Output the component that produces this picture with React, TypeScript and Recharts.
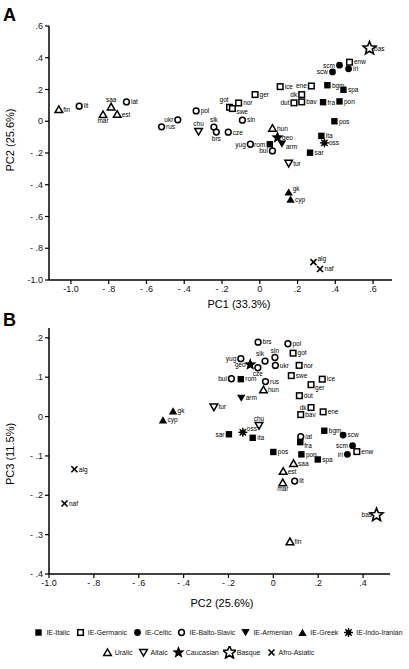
import React from 'react';
import { ScatterChart, Scatter, XAxis, YAxis } from 'recharts';

// language codes, family and principal-component scores
const languages = [
  'fra', 'spa', 'pon', 'pos', 'ita', 'sar', 'rom', 'bgm',
  'got', 'swe', 'nor', 'ger', 'ice', 'ene', 'dk', 'dut', 'bav', 'enw',
  'scm', 'scw', 'iri',
  'lit', 'lat', 'ukr', 'rus', 'pol', 'slk', 'brs', 'cze', 'sln', 'yug', 'bul',
  'arm', 'gk', 'cyp', 'oss',
  'fin', 'saa', 'mar', 'est', 'hun',
  'chu', 'tur', 'geo', 'bas', 'alg', 'naf',
];
const family = [
  'IE-Italic', 'IE-Italic', 'IE-Italic', 'IE-Italic', 'IE-Italic', 'IE-Italic', 'IE-Italic', 'IE-Italic',
  'IE-Germanic', 'IE-Germanic', 'IE-Germanic', 'IE-Germanic', 'IE-Germanic', 'IE-Germanic', 'IE-Germanic', 'IE-Germanic', 'IE-Germanic', 'IE-Germanic',
  'IE-Celtic', 'IE-Celtic', 'IE-Celtic',
  'IE-Balto-Slavic', 'IE-Balto-Slavic', 'IE-Balto-Slavic', 'IE-Balto-Slavic', 'IE-Balto-Slavic', 'IE-Balto-Slavic', 'IE-Balto-Slavic', 'IE-Balto-Slavic', 'IE-Balto-Slavic', 'IE-Balto-Slavic', 'IE-Balto-Slavic',
  'IE-Armenian', 'IE-Greek', 'IE-Greek', 'IE-Indo-Iranian',
  'Uralic', 'Uralic', 'Uralic', 'Uralic', 'Uralic',
  'Altaic', 'Altaic', 'Caucasian', 'Basque', 'Afro-Asiatic', 'Afro-Asiatic',
];
const pc1 = [
  0.335, 0.443, 0.422, 0.395, 0.326, 0.266, 0.053, 0.358,
  -0.16, -0.145, -0.112, -0.025, 0.108, 0.273, 0.222, 0.181, 0.222, 0.475,
  0.422, 0.385, 0.47,
  -0.956, -0.706, -0.434, -0.52, -0.337, -0.243, -0.23, -0.167, -0.092, -0.05, 0.067,
  0.117, 0.153, 0.163, 0.342,
  -1.064, -0.787, -0.83, -0.755, 0.067,
  -0.324, 0.153, 0.094, 0.581, 0.284, 0.319,
];
const pc2 = [
  0.12, 0.198, 0.125, 0.0, -0.092, -0.198, -0.145, 0.227,
  0.088, 0.08, 0.115, 0.168, 0.218, 0.222, 0.168, 0.116, 0.122, 0.372,
  0.353, 0.311, 0.33,
  0.095, 0.122, 0.009, -0.035, 0.065, -0.037, -0.068, -0.069, 0.007, -0.145, -0.187,
  -0.143, -0.447, -0.492, -0.136,
  0.074, 0.09, 0.042, 0.044, -0.044,
  -0.064, -0.265, -0.103, 0.46, -0.887, -0.931,
];
const pc3 = [
  -0.065, -0.109, -0.096, -0.09, -0.054, -0.045, 0.095, -0.036,
  0.161, 0.104, 0.13, 0.081, 0.095, 0.012, 0.023, 0.053, 0.005, -0.089,
  -0.074, -0.047, -0.096,
  -0.164, -0.051, 0.13, 0.089, 0.185, 0.141, 0.189, 0.124, 0.15, 0.147, 0.096,
  0.047, 0.014, -0.009, -0.04,
  -0.318, -0.119, -0.168, -0.139, 0.068,
  -0.023, 0.024, 0.132, -0.25, -0.134, -0.221,
];

const legendRow1 = ['IE-Italic', 'IE-Germanic', 'IE-Celtic', 'IE-Balto-Slavic', 'IE-Armenian', 'IE-Greek', 'IE-Indo-Iranian'];
const legendRow2 = ['Uralic', 'Altaic', 'Caucasian', 'Basque', 'Afro-Asiatic'];

const ticksPC1 = [-1.0, -0.8, -0.6, -0.4, -0.2, 0, 0.2, 0.4, 0.6];
const ticksPC2x = [-1.0, -0.8, -0.6, -0.4, -0.2, 0, 0.2, 0.4];
const ticksPC2y = [-1.0, -0.8, -0.6, -0.4, -0.2, 0, 0.2, 0.4, 0.6];
const ticksPC3 = [-0.4, -0.3, -0.2, -0.1, 0, 0.1, 0.2];

// where each point's code is written (default: right of marker)
const labelSideA: Record<string, string> = {
  saa: 't', mar: 'b', ukr: 'l', chu: 't', slk: 't', brs: 'b', got: 'tl', swe: 'br',
  yug: 'l', rom: 'l', bul: 'l', arm: 'br', ene: 'l', dk: 'l', dut: 'l',
  scm: 'l', scw: 'l', gk: 'tr', alg: 'tr',
};
const labelSideB: Record<string, string> = {
  slk: 'tl', sln: 't', yug: 'l', geo: 'l', cze: 'b', bul: 'l', ger: 'br', dk: 'l',
  chu: 't', oss: 'tr', sar: 'l', fra: 'br', scm: 'l', iri: 'l', mar: 'b', bas: 'l',
};

const FONT = '"Liberation Sans", Arial, Helvetica, sans-serif';

const starPath = (cx: number, cy: number, R: number, r: number) => {
  let d = '';
  for (let i = 0; i < 10; i++) {
    const rad = i % 2 === 0 ? R : r;
    const a = -Math.PI / 2 + (i * Math.PI) / 5;
    d += (i === 0 ? 'M' : 'L') + (cx + rad * Math.cos(a)).toFixed(2) + ',' + (cy + rad * Math.sin(a)).toFixed(2);
  }
  return d + 'Z';
};

const Marker = ({ fam, cx, cy }: { fam: string; cx: number; cy: number }) => {
  const sw = 1.5;
  switch (fam) {
    case 'IE-Italic':
      return <rect x={cx - 3.2} y={cy - 3.2} width={6.4} height={6.4} fill="#000" />;
    case 'IE-Germanic':
      return <rect x={cx - 2.8} y={cy - 2.8} width={5.6} height={5.6} fill="#fff" stroke="#000" strokeWidth={sw} />;
    case 'IE-Celtic':
      return <circle cx={cx} cy={cy} r={3.4} fill="#000" />;
    case 'IE-Balto-Slavic':
      return <circle cx={cx} cy={cy} r={2.9} fill="#fff" stroke="#000" strokeWidth={sw} />;
    case 'IE-Armenian':
      return <path d={`M${cx - 4.2},${cy - 3.4}L${cx + 4.2},${cy - 3.4}L${cx},${cy + 3.8}Z`} fill="#000" />;
    case 'IE-Greek':
      return <path d={`M${cx - 4.2},${cy + 3.4}L${cx + 4.2},${cy + 3.4}L${cx},${cy - 3.8}Z`} fill="#000" />;
    case 'IE-Indo-Iranian': {
      const r = 4.5;
      return (
        <g stroke="#000" strokeWidth={1.4}>
          {[0, 1, 2, 3].map((i) => {
            const a = (i * Math.PI) / 4;
            return <line key={i} x1={cx - r * Math.cos(a)} y1={cy - r * Math.sin(a)} x2={cx + r * Math.cos(a)} y2={cy + r * Math.sin(a)} />;
          })}
          <circle cx={cx} cy={cy} r={2} fill="#000" />
        </g>
      );
    }
    case 'Uralic':
      return <path d={`M${cx - 3.8},${cy + 3}L${cx + 3.8},${cy + 3}L${cx},${cy - 3.6}Z`} fill="#fff" stroke="#000" strokeWidth={sw} />;
    case 'Altaic':
      return <path d={`M${cx - 3.8},${cy - 3}L${cx + 3.8},${cy - 3}L${cx},${cy + 3.6}Z`} fill="#fff" stroke="#000" strokeWidth={sw} />;
    case 'Caucasian':
      return <path d={starPath(cx, cy, 6.5, 2.8)} fill="#000" />;
    case 'Basque':
      return <path d={starPath(cx, cy, 6.8, 3)} fill="#fff" stroke="#000" strokeWidth={1.6} />;
    default:
      return (
        <g stroke="#000" strokeWidth={1.6}>
          <line x1={cx - 3} y1={cy - 3} x2={cx + 3} y2={cy + 3} />
          <line x1={cx - 3} y1={cy + 3} x2={cx + 3} y2={cy - 3} />
        </g>
      );
  }
};

const pointLabel = (name: string, cx: number, cy: number, side: string) => {
  let x = cx + 4.5;
  let y = cy + 2.3;
  let anchor: 'start' | 'middle' | 'end' = 'start';
  if (side === 'l') { x = cx - 4.5; anchor = 'end'; }
  if (side === 't') { x = cx; y = cy - 5; anchor = 'middle'; }
  if (side === 'b') { x = cx; y = cy + 8.5; anchor = 'middle'; }
  if (side === 'tl') { x = cx - 1; y = cy - 5; anchor = 'end'; }
  if (side === 'tr') { x = cx + 4; y = cy - 1; }
  if (side === 'br') { x = cx + 4; y = cy + 5.5; }
  return (
    <text x={x} y={y} textAnchor={anchor} fontSize={6.5} fontFamily={FONT} fill="#000">
      {name}
    </text>
  );
};

const families = [...legendRow1, ...legendRow2];

const buildData = (fam: string, xs: number[], ys: number[]) =>
  languages
    .map((name, i) => ({ name, fam: family[i], x: xs[i], y: ys[i] }))
    .filter((d) => d.fam === fam);

const fmt = (v: number) => {
  if (Math.abs(v) < 1e-9) return '0';
  const a = Math.abs(v);
  if (a >= 0.999) return (v < 0 ? '-' : '') + a.toFixed(1);
  const s = '.' + Math.round(a * 10);
  return v < 0 ? '- ' + s : s;
};

const tickStyle = { fontSize: 9, fontFamily: FONT, fill: '#111' };

const Panel = ({
  xs, ys, sides, xDomain, yDomain, xTicks, yTicks, height, margin,
}: {
  xs: number[]; ys: number[]; sides: Record<string, string>;
  xDomain: [number, number]; yDomain: [number, number];
  xTicks: number[]; yTicks: number[]; height: number;
  margin: { top: number; right: number; bottom: number; left: number };
}) => (
  <ScatterChart width={409} height={height} margin={margin}>
    <XAxis
      type="number" dataKey="x" domain={xDomain} ticks={xTicks} allowDataOverflow
      tickFormatter={fmt} tick={tickStyle} tickSize={4} tickMargin={2}
      axisLine={{ stroke: '#000', strokeWidth: 1.5 }} tickLine={{ stroke: '#000', strokeWidth: 1.2 }}
      height={30} interval={0}
    />
    <YAxis
      type="number" dataKey="y" domain={yDomain} ticks={yTicks} allowDataOverflow
      tickFormatter={fmt} tick={tickStyle} tickSize={4} tickMargin={2}
      axisLine={{ stroke: '#000', strokeWidth: 1.5 }} tickLine={{ stroke: '#000', strokeWidth: 1.2 }}
      width={49} interval={0}
    />
    {families.map((fam) => (
      <Scatter
        key={fam}
        name={fam}
        data={buildData(fam, xs, ys)}
        isAnimationActive={false}
        shape={(p: any) => (
          <g>
            <Marker fam={fam} cx={p.cx} cy={p.cy} />
            {pointLabel(p.payload.name, p.cx, p.cy, sides[p.payload.name] || 'r')}
          </g>
        )}
      />
    ))}
  </ScatterChart>
);

const LegendItem = ({ fam }: { fam: string }) => (
  <span style={{ display: 'inline-flex', alignItems: 'center', marginRight: 4, whiteSpace: 'nowrap' }}>
    <svg width={13} height={13} style={{ marginRight: 1 }}>
      <Marker fam={fam} cx={6.5} cy={6.5} />
    </svg>
    <span>{fam}</span>
  </span>
);

export default function App() {
  return (
    <div style={{ position: 'absolute', left: 0, top: 0, width: 409, height: 669, background: '#fff', fontFamily: FONT }}>
      <div style={{ position: 'absolute', left: 0, top: 0 }}>
        <Panel
          xs={pc1} ys={pc2} sides={labelSideA}
          xDomain={[-1.116, 0.7]} yDomain={[-1.0, 0.6]}
          xTicks={ticksPC1} yTicks={ticksPC2y} height={310}
          margin={{ top: 26, right: 17, bottom: 0, left: 0 }}
        />
      </div>
      <div style={{ position: 'absolute', left: 0, top: 310 }}>
        <Panel
          xs={pc2} ys={pc3} sides={labelSideB}
          xDomain={[-1.0, 0.52]} yDomain={[-0.4, 0.225]}
          xTicks={ticksPC2x} yTicks={ticksPC3} height={294}
          margin={{ top: 18, right: 19, bottom: 0, left: 0 }}
        />
      </div>
      <svg width={409} height={669} style={{ position: 'absolute', left: 0, top: 0, pointerEvents: 'none' }}>
        <text x={3} y={21} fontSize={18} fontWeight="bold" fontFamily={FONT}>A</text>
        <text x={3} y={326} fontSize={18} fontWeight="bold" fontFamily={FONT}>B</text>
        <text x={239} y={308} fontSize={11} textAnchor="middle" fontFamily={FONT}>PC1 (33.3%)</text>
        <text x={222} y={607} fontSize={11} textAnchor="middle" fontFamily={FONT}>PC2 (25.6%)</text>
        <text transform="translate(14,140) rotate(-90)" fontSize={11} textAnchor="middle" fontFamily={FONT}>PC2 (25.6%)</text>
        <text transform="translate(14,454) rotate(-90)" fontSize={11} textAnchor="middle" fontFamily={FONT}>PC3 (11.5%)</text>
      </svg>
      <div style={{ position: 'absolute', left: 0, top: 626, width: 409, fontSize: 7, lineHeight: '13px', color: '#111' }}>
        <div style={{ display: 'flex', justifyContent: 'center', paddingLeft: 30 }}>
          {legendRow1.map((f) => <LegendItem key={f} fam={f} />)}
        </div>
        <div style={{ display: 'flex', justifyContent: 'center', marginTop: 7, paddingLeft: 10 }}>
          {legendRow2.map((f) => <LegendItem key={f} fam={f} />)}
        </div>
      </div>
    </div>
  );
}
